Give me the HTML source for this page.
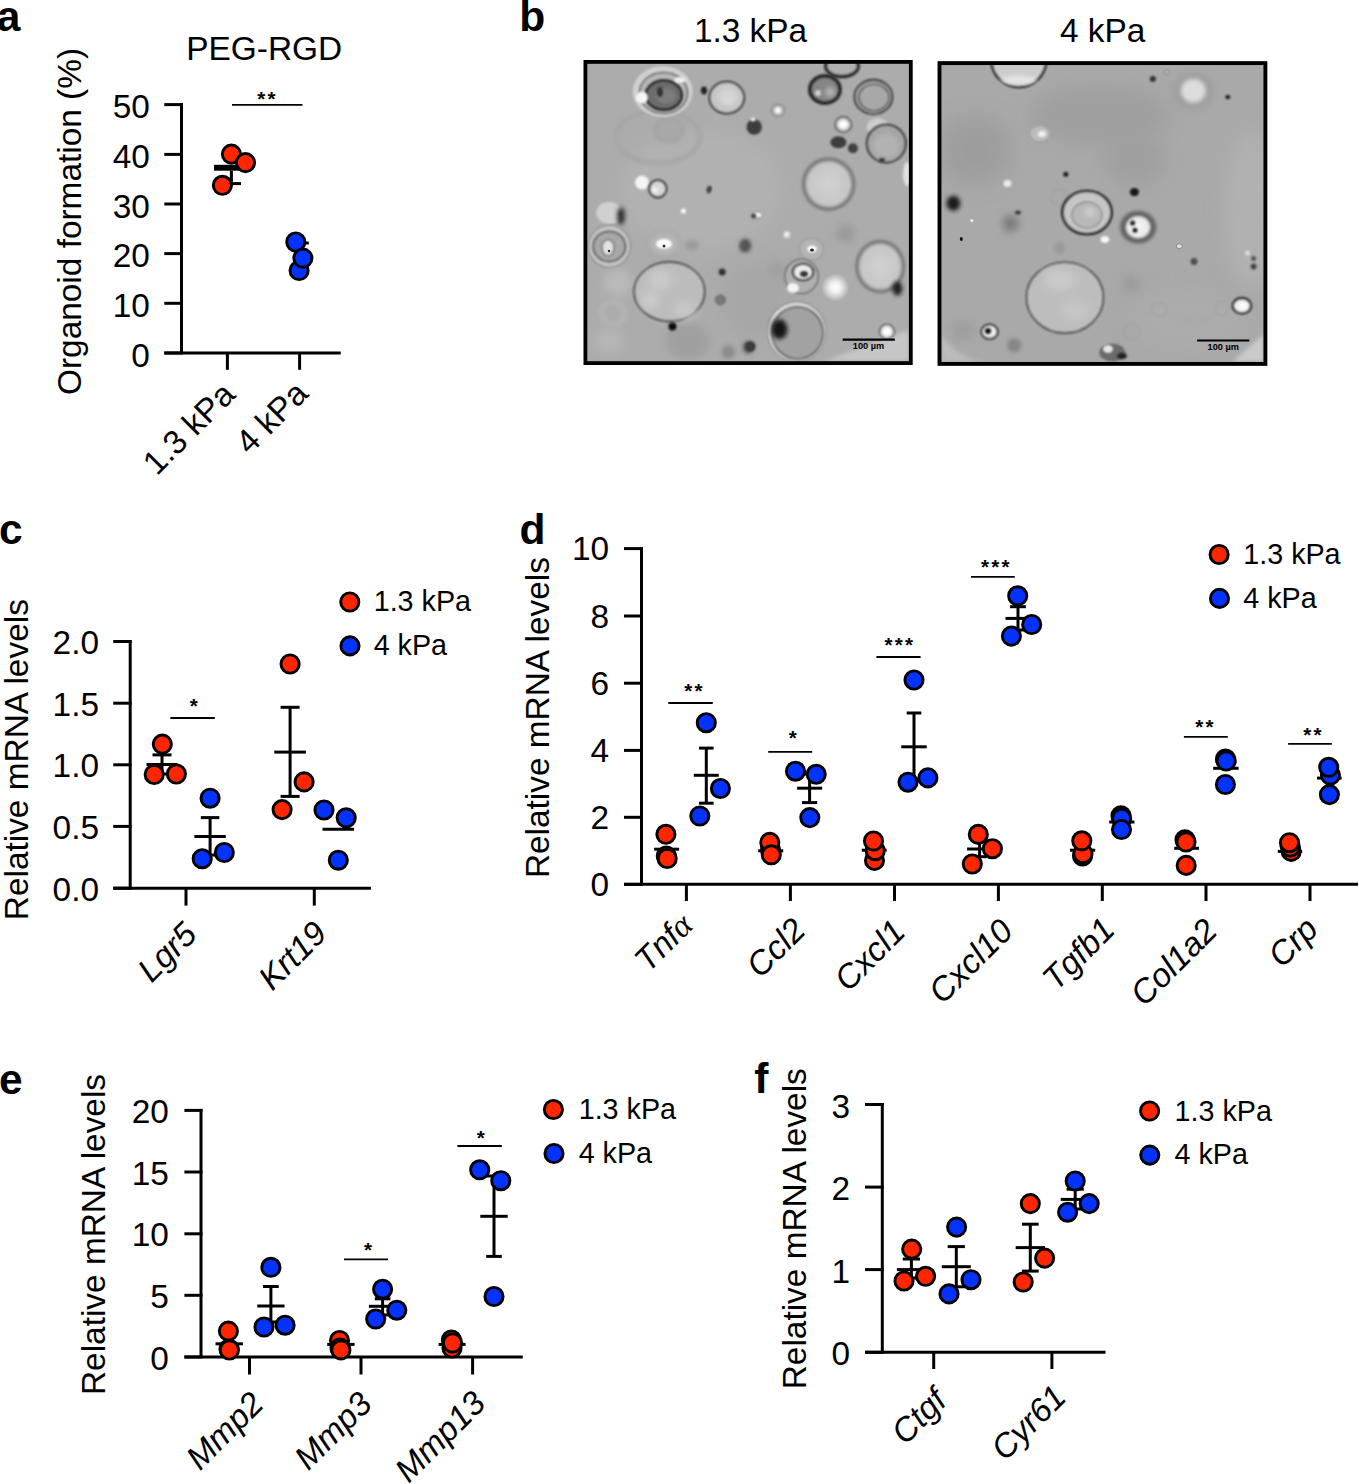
<!DOCTYPE html>
<html><head><meta charset="utf-8"><style>
html,body{margin:0;padding:0;background:#fff;overflow:hidden}
svg{display:block}
text{font-family:"Liberation Sans",sans-serif;fill:#000}
</style></head><body>
<svg width="1359" height="1484" viewBox="0 0 1359 1484">
<rect width="1359" height="1484" fill="#fff"/>
<text x="-3.20" y="30.80" font-size="42.5" font-weight="bold">a</text>
<text x="519.20" y="30.90" font-size="42.5" font-weight="bold">b</text>
<text x="-0.90" y="543.60" font-size="42.5" font-weight="bold">c</text>
<text x="519.50" y="543.70" font-size="42.5" font-weight="bold">d</text>
<text x="-0.90" y="1093.70" font-size="42.5" font-weight="bold">e</text>
<text x="754.20" y="1093.40" font-size="42.5" font-weight="bold">f</text>
<line x1="181.50" y1="103.10" x2="181.50" y2="353.00" stroke="#000" stroke-width="3"/>
<line x1="164.30" y1="104.60" x2="183.00" y2="104.60" stroke="#000" stroke-width="3"/>
<line x1="164.30" y1="154.40" x2="183.00" y2="154.40" stroke="#000" stroke-width="3"/>
<line x1="164.30" y1="204.00" x2="183.00" y2="204.00" stroke="#000" stroke-width="3"/>
<line x1="164.30" y1="253.60" x2="183.00" y2="253.60" stroke="#000" stroke-width="3"/>
<line x1="164.30" y1="303.30" x2="183.00" y2="303.30" stroke="#000" stroke-width="3"/>
<line x1="164.30" y1="353.00" x2="183.00" y2="353.00" stroke="#000" stroke-width="3"/>
<line x1="164.30" y1="353.00" x2="340.70" y2="353.00" stroke="#000" stroke-width="3"/>
<line x1="227.40" y1="353.00" x2="227.40" y2="369.80" stroke="#000" stroke-width="3"/>
<line x1="299.60" y1="353.00" x2="299.60" y2="369.80" stroke="#000" stroke-width="3"/>
<text x="149.90" y="118.10" font-size="33.4" text-anchor="end">50</text>
<text x="149.90" y="167.90" font-size="33.4" text-anchor="end">40</text>
<text x="149.90" y="217.50" font-size="33.4" text-anchor="end">30</text>
<text x="149.90" y="267.10" font-size="33.4" text-anchor="end">20</text>
<text x="149.90" y="316.80" font-size="33.4" text-anchor="end">10</text>
<text x="149.90" y="366.50" font-size="33.4" text-anchor="end">0</text>
<text x="186.30" y="60.00" font-size="33.4">PEG-RGD</text>
<text x="81.20" y="221.50" font-size="33.4" text-anchor="middle" transform="rotate(-90 81.20 221.50)">Organoid formation (%)</text>
<line x1="232.00" y1="104.80" x2="302.50" y2="104.80" stroke="#000" stroke-width="1.8"/>
<text x="261.38" y="105.60" font-size="20.6" text-anchor="middle" font-weight="bold">*</text>
<text x="271.62" y="105.60" font-size="20.6" text-anchor="middle" font-weight="bold">*</text>
<rect x="214.00" y="164.80" width="34.80" height="5.90" fill="#000"/>
<line x1="231.40" y1="170.70" x2="231.40" y2="184.00" stroke="#000" stroke-width="3"/>
<line x1="221.50" y1="183.60" x2="241.00" y2="183.60" stroke="#000" stroke-width="3"/>
<circle cx="231.40" cy="154.10" r="9.1" fill="#ff2600" stroke="#000" stroke-width="2.9"/>
<circle cx="245.50" cy="162.60" r="9.1" fill="#ff2600" stroke="#000" stroke-width="2.9"/>
<circle cx="222.40" cy="185.30" r="9.1" fill="#ff2600" stroke="#000" stroke-width="2.9"/>
<line x1="290.00" y1="243.00" x2="308.80" y2="243.00" stroke="#000" stroke-width="3"/>
<circle cx="295.80" cy="242.00" r="9.1" fill="#0433ff" stroke="#000" stroke-width="2.9"/>
<circle cx="299.10" cy="270.50" r="9.1" fill="#0433ff" stroke="#000" stroke-width="2.9"/>
<circle cx="302.90" cy="258.10" r="9.1" fill="#0433ff" stroke="#000" stroke-width="2.9"/>
<text x="236.80" y="396.40" font-size="33.4" text-anchor="end" transform="rotate(-45 236.80 396.40)">1.3 kPa</text>
<text x="309.90" y="395.40" font-size="33.4" text-anchor="end" transform="rotate(-45 309.90 395.40)">4 kPa</text>
<defs><clipPath id="c1"><rect x="586" y="63" width="324" height="299"/></clipPath><clipPath id="c2"><rect x="940.5" y="64" width="324" height="299"/></clipPath><filter id="bl1" x="-50%" y="-50%" width="200%" height="200%"><feGaussianBlur stdDeviation="0.8"/></filter><filter id="bl2" x="-50%" y="-50%" width="200%" height="200%"><feGaussianBlur stdDeviation="2"/></filter><filter id="bl4" x="-50%" y="-50%" width="200%" height="200%"><feGaussianBlur stdDeviation="4"/></filter><filter id="bl8" x="-50%" y="-50%" width="200%" height="200%"><feGaussianBlur stdDeviation="10"/></filter><radialGradient id="glow"><stop offset="0" stop-color="#fff" stop-opacity="1"/><stop offset="0.4" stop-color="#fff" stop-opacity="0.8"/><stop offset="1" stop-color="#fff" stop-opacity="0"/></radialGradient><radialGradient id="blob" cx="0.5" cy="0.5" r="0.5"><stop offset="0" stop-color="#d2d2d2"/><stop offset="0.72" stop-color="#c6c6c6"/><stop offset="0.87" stop-color="#727272"/><stop offset="1" stop-color="#a0a0a0" stop-opacity="0"/></radialGradient><radialGradient id="halo" cx="0.5" cy="0.5" r="0.5"><stop offset="0" stop-color="#f6f6f6"/><stop offset="0.5" stop-color="#eaeaea"/><stop offset="0.66" stop-color="#5a5a5a"/><stop offset="0.84" stop-color="#7a7a7a"/><stop offset="1" stop-color="#a5a5a5" stop-opacity="0"/></radialGradient><radialGradient id="dglow2"><stop offset="0" stop-color="#888"/><stop offset="1" stop-color="#888" stop-opacity="0"/></radialGradient></defs>
<g clip-path="url(#c1)">
<rect x="586" y="63" width="324" height="299" fill="#acacac"/>
<ellipse cx="700" cy="190" rx="80" ry="60" fill="#b2b2b2" filter="url(#bl8)" opacity="0.9"/>
<ellipse cx="760" cy="300" rx="40" ry="40" fill="#a6a6a6" filter="url(#bl8)" opacity="0.8"/>
<ellipse cx="688" cy="341" rx="22" ry="18" fill="#9c9c9c" filter="url(#bl4)" opacity="0.8"/>
<polygon points="825,361 909,361 909,330" fill="#c6c6c6" filter="url(#bl2)"/>
<ellipse cx="658" cy="137" rx="42" ry="26" fill="none" stroke="#a2a2a2" stroke-width="3" filter="url(#bl2)"/>
<ellipse cx="669" cy="130" rx="14.5" ry="12.3" fill="#a8a8a8" stroke="#9e9e9e" stroke-width="2" filter="url(#bl2)"/>
<ellipse cx="662.7" cy="91.5" rx="30" ry="25.5" fill="#d0d0d0" filter="url(#bl1)"/>
<ellipse cx="663.5" cy="93" rx="24" ry="20.5" fill="#b8b8b8" stroke="#5a5a5a" stroke-width="1.5" filter="url(#bl1)"/>
<ellipse cx="663.8" cy="95.2" rx="18" ry="14.6" fill="#6c6c6c" stroke="#1a1a1a" stroke-width="2.5" filter="url(#bl1)"/>
<ellipse cx="666" cy="96" rx="10" ry="8" fill="#7c7c7c" filter="url(#bl1)"/>
<ellipse cx="660" cy="92" rx="3" ry="5" fill="#333" filter="url(#bl1)"/>
<ellipse cx="642" cy="97.6" rx="6" ry="6" fill="#f6f6f6" filter="url(#bl1)"/>
<ellipse cx="680" cy="80" rx="6" ry="3" fill="#eee" filter="url(#bl1)"/>
<ellipse cx="726.8" cy="97.6" rx="17.3" ry="15.8" fill="#c6c6c6" stroke="#2a2a2a" stroke-width="2" filter="url(#bl1)"/>
<ellipse cx="728" cy="97" rx="9" ry="9" fill="#d6d6d6" filter="url(#bl2)"/>
<ellipse cx="704" cy="90.4" rx="3" ry="4" fill="#222" filter="url(#bl1)"/>
<ellipse cx="824.9" cy="89.5" rx="15" ry="13.5" fill="#858585" stroke="#2a2a2a" stroke-width="4" filter="url(#bl1)"/>
<ellipse cx="830" cy="92" rx="5" ry="5" fill="#b0b0b0" filter="url(#bl2)"/>
<ellipse cx="818" cy="93" rx="3" ry="3" fill="#d0d0d0" filter="url(#bl1)"/>
<ellipse cx="842" cy="66" rx="16.3" ry="10.5" fill="#b0b0b0" stroke="#2a2a2a" stroke-width="3.5" filter="url(#bl1)"/>
<ellipse cx="873.4" cy="96.9" rx="18.9" ry="16.9" fill="#a2a2a2" stroke="#222" stroke-width="1.8" filter="url(#bl1)"/>
<ellipse cx="874" cy="97.5" rx="15" ry="13" fill="#a8a8a8" stroke="#3a3a3a" stroke-width="1.2" filter="url(#bl1)"/>
<ellipse cx="754.2" cy="127" rx="7.7" ry="7.7" fill="#3c3c3c" filter="url(#bl1)"/>
<ellipse cx="753" cy="119.5" rx="2.5" ry="2" fill="#eee" filter="url(#bl1)"/>
<ellipse cx="778" cy="110.4" rx="6.5" ry="6" fill="#bbb" stroke="#777" stroke-width="1.2" filter="url(#bl1)"/>
<ellipse cx="778" cy="110.4" rx="3" ry="2.8" fill="#fafafa" filter="url(#bl1)"/>
<ellipse cx="843.3" cy="124.5" rx="8" ry="7.5" fill="#ccc" stroke="#3a3a3a" stroke-width="1.5" filter="url(#bl1)"/>
<ellipse cx="843.3" cy="124.5" rx="4.5" ry="4" fill="#fefefe" filter="url(#bl1)"/>
<ellipse cx="838.4" cy="142.3" rx="8" ry="6" fill="#3e3e3e" filter="url(#bl1)"/>
<ellipse cx="852.9" cy="148.2" rx="5" ry="5" fill="#404040" filter="url(#bl1)"/>
<ellipse cx="877.7" cy="127" rx="11" ry="9" fill="#cdcdcd" filter="url(#bl1)"/>
<ellipse cx="886.3" cy="143.6" rx="19.4" ry="18.8" fill="#a6a6a6" stroke="#2a2a2a" stroke-width="2" filter="url(#bl1)"/>
<ellipse cx="886" cy="146" rx="13" ry="12" fill="#b2b2b2" filter="url(#bl2)"/>
<ellipse cx="882" cy="160" rx="3" ry="2" fill="#333" filter="url(#bl1)"/>
<ellipse cx="907" cy="174" rx="4" ry="12" fill="#e0e0e0" filter="url(#bl1)"/>
<ellipse cx="828.6" cy="184.1" rx="29" ry="29" fill="url(#blob)" filter="url(#bl1)"/>
<ellipse cx="609.3" cy="213" rx="13" ry="11" fill="#d0d0d0" filter="url(#bl1)"/>
<ellipse cx="621" cy="216" rx="4" ry="9" fill="#333" filter="url(#bl2)"/>
<ellipse cx="609.3" cy="246.4" rx="21" ry="21" fill="#c4c4c4" stroke="#888" stroke-width="1.2" filter="url(#bl1)"/>
<ellipse cx="609.3" cy="246.4" rx="16" ry="15" fill="#a8a8a8" stroke="#444" stroke-width="1.5" filter="url(#bl1)"/>
<ellipse cx="608" cy="247.6" rx="6" ry="8" fill="#e2e2e2" stroke="#555" stroke-width="1.2" filter="url(#bl1)"/>
<ellipse cx="609" cy="251" rx="1.2" ry="1.2" fill="#222"/>
<ellipse cx="642" cy="182.6" rx="7" ry="7" fill="#f4f4f4" filter="url(#bl1)"/>
<ellipse cx="657.8" cy="188.7" rx="8.5" ry="8.5" fill="#d8d8d8" stroke="#1e1e1e" stroke-width="2" filter="url(#bl1)"/>
<ellipse cx="655" cy="190" rx="3" ry="3" fill="#f0f0f0" filter="url(#bl1)"/>
<ellipse cx="710" cy="188.7" rx="1.5" ry="3" fill="#333" filter="url(#bl1)"/>
<ellipse cx="683.4" cy="211" rx="2.5" ry="2.5" fill="#fafafa" filter="url(#bl1)"/>
<ellipse cx="664" cy="244" rx="16" ry="13" fill="#b6b6b6" stroke="#9c9c9c" stroke-width="1.5" filter="url(#bl2)"/>
<ellipse cx="664" cy="244" rx="8" ry="5" fill="#fcfcfc" filter="url(#bl1)"/>
<ellipse cx="664" cy="246" rx="1.5" ry="1.5" fill="#333"/>
<ellipse cx="691.8" cy="245.2" rx="7" ry="5" fill="#9a9a9a" filter="url(#bl2)"/>
<ellipse cx="617.8" cy="282.9" rx="14" ry="13" fill="#bababa" filter="url(#bl4)"/>
<ellipse cx="613" cy="313" rx="12" ry="11" fill="none" stroke="#b8b8b8" stroke-width="3" filter="url(#bl2)"/>
<ellipse cx="609.3" cy="341" rx="14" ry="12" fill="#b6b6b6" filter="url(#bl4)"/>
<ellipse cx="669.4" cy="291.6" rx="35.2" ry="29.5" fill="#bcbcbc" stroke="#262626" stroke-width="1.6" filter="url(#bl1)"/>
<ellipse cx="660" cy="280" rx="12" ry="10" fill="#cacaca" filter="url(#bl4)"/>
<ellipse cx="685" cy="310" rx="11" ry="9" fill="#c8c8c8" filter="url(#bl4)"/>
<ellipse cx="650" cy="300" rx="9" ry="8" fill="#cccccc" filter="url(#bl4)"/>
<ellipse cx="672.4" cy="326.6" rx="4" ry="4" fill="#111" filter="url(#bl1)"/>
<ellipse cx="722.2" cy="272" rx="3.5" ry="3.5" fill="#333" filter="url(#bl1)"/>
<ellipse cx="720.4" cy="299.8" rx="4.8" ry="4.8" fill="#7a7a7a" stroke="#555" stroke-width="1" filter="url(#bl1)"/>
<ellipse cx="745.3" cy="245.2" rx="5" ry="6" fill="#555" filter="url(#bl2)"/>
<ellipse cx="748.3" cy="347.2" rx="5" ry="6" fill="#444" filter="url(#bl2)"/>
<ellipse cx="728.3" cy="352" rx="7" ry="7" fill="#8c8c8c" filter="url(#bl2)"/>
<ellipse cx="708.4" cy="190" rx="1.8" ry="3.5" fill="#444" filter="url(#bl1)"/>
<ellipse cx="757.7" cy="214.9" rx="4.5" ry="3" fill="#f2f2f2" stroke="#777" stroke-width="1" filter="url(#bl1)"/>
<ellipse cx="753.6" cy="216" rx="2.5" ry="2.5" fill="#444" filter="url(#bl1)"/>
<ellipse cx="786.8" cy="234.6" rx="5" ry="5" fill="#c8c8c8" stroke="#999" stroke-width="1" filter="url(#bl1)"/>
<ellipse cx="786.8" cy="234.6" rx="2" ry="2" fill="#fff" filter="url(#bl1)"/>
<ellipse cx="745" cy="246" rx="5" ry="6" fill="#555" filter="url(#bl2)"/>
<ellipse cx="811.4" cy="249.3" rx="12" ry="11" fill="#b4b4b4" stroke="#999" stroke-width="1.2" filter="url(#bl1)"/>
<ellipse cx="812" cy="249" rx="5" ry="3.5" fill="#fafafa" filter="url(#bl1)"/>
<ellipse cx="812" cy="250" rx="2" ry="1.5" fill="#222"/>
<ellipse cx="845.8" cy="233.3" rx="10" ry="9" fill="#999" filter="url(#bl4)"/>
<ellipse cx="778.2" cy="269" rx="8" ry="8" fill="#9e9e9e" filter="url(#bl4)"/>
<ellipse cx="801.5" cy="276.4" rx="16.6" ry="17.2" fill="#b0b0b0" stroke="#6a6a6a" stroke-width="1.5" filter="url(#bl1)"/>
<ellipse cx="803" cy="272" rx="10" ry="8" fill="#ececec" stroke="#222" stroke-width="2" filter="url(#bl1)"/>
<ellipse cx="804" cy="274" rx="4" ry="3" fill="#333" filter="url(#bl1)"/>
<ellipse cx="793" cy="288" rx="6" ry="5" fill="#f4f4f4" filter="url(#bl1)"/>
<ellipse cx="835.3" cy="287.4" rx="14" ry="14" fill="url(#glow)"/>
<ellipse cx="880.2" cy="266.5" rx="27" ry="29" fill="url(#blob)" filter="url(#bl1)"/>
<ellipse cx="897.4" cy="288.6" rx="5" ry="7" fill="#1a1a1a" filter="url(#bl2)"/>
<ellipse cx="796.6" cy="331.6" rx="29" ry="29.8" fill="#d8d8d8" stroke="#888" stroke-width="1.2" filter="url(#bl1)"/>
<ellipse cx="797.5" cy="333" rx="25.5" ry="26" fill="#a2a2a2" stroke="#505050" stroke-width="1.5" filter="url(#bl1)"/>
<ellipse cx="779.4" cy="329.2" rx="8" ry="10" fill="#161616" filter="url(#bl2)"/>
<ellipse cx="750.5" cy="346.4" rx="5" ry="5" fill="#3a3a3a" filter="url(#bl1)"/>
<ellipse cx="886.9" cy="331.6" rx="7" ry="7" fill="#ececec" stroke="#444" stroke-width="1.5" filter="url(#bl1)"/>
<ellipse cx="886.9" cy="331.6" rx="3" ry="3" fill="#fff"/>
</g>
<line x1="842.7" y1="339.6" x2="894.9" y2="339.6" stroke="#000" stroke-width="2.1"/>
<text x="868.5" y="349.2" font-size="9.2" font-weight="bold" text-anchor="middle">100 µm</text>
<g clip-path="url(#c2)">
<rect x="940.5" y="64" width="324" height="299" fill="#a9a9a9"/>
<ellipse cx="1100" cy="115" rx="70" ry="30" fill="#9e9e9e" filter="url(#bl8)" opacity="0.9"/>
<ellipse cx="975" cy="150" rx="35" ry="35" fill="#9c9c9c" filter="url(#bl8)" opacity="0.9"/>
<ellipse cx="1135" cy="160" rx="30" ry="25" fill="#9c9c9c" filter="url(#bl8)" opacity="0.8"/>
<ellipse cx="1250" cy="210" rx="25" ry="80" fill="#b4b4b4" filter="url(#bl8)" opacity="0.8"/>
<ellipse cx="1190" cy="320" rx="60" ry="30" fill="#adadad" filter="url(#bl8)" opacity="0.7"/>
<polygon points="1232,362 1264,362 1264,334" fill="#cacaca" filter="url(#bl2)"/>
<path d="M941.5,335 Q960,362 990,362 L941.5,362 Z" fill="#bcbcbc" filter="url(#bl2)"/>
<ellipse cx="1018.8" cy="60" rx="27.3" ry="27" fill="#cdcdcd" stroke="#1a1a1a" stroke-width="2.5" filter="url(#bl1)"/>
<ellipse cx="1018.8" cy="80" rx="18" ry="4" fill="#e6e6e6" filter="url(#bl2)"/>
<ellipse cx="1193.4" cy="90.7" rx="20" ry="18" fill="#999" filter="url(#bl4)" opacity="0.8"/>
<ellipse cx="1193.4" cy="90.7" rx="12.5" ry="12" fill="#dcdcdc" filter="url(#bl2)"/>
<ellipse cx="1152.8" cy="79" rx="3" ry="3" fill="#333" filter="url(#bl1)"/>
<ellipse cx="1227.8" cy="96.9" rx="2.5" ry="2" fill="#111" filter="url(#bl1)"/>
<ellipse cx="1167" cy="72.3" rx="3" ry="3" fill="none" stroke="#999" stroke-width="1"/>
<ellipse cx="1040" cy="133.7" rx="10" ry="8" fill="#bdbdbd" stroke="#999" stroke-width="1" filter="url(#bl1)"/>
<ellipse cx="1042" cy="134" rx="4" ry="3" fill="#f2f2f2" filter="url(#bl1)"/>
<ellipse cx="1007.4" cy="183.5" rx="4" ry="3.5" fill="#eaeaea" filter="url(#bl1)"/>
<ellipse cx="1065.8" cy="174.3" rx="2.5" ry="2.5" fill="#1a1a1a" filter="url(#bl1)"/>
<ellipse cx="953.4" cy="203.2" rx="7" ry="7.5" fill="#1c1c1c" filter="url(#bl2)"/>
<ellipse cx="1017.9" cy="212.4" rx="3" ry="2" fill="#333" filter="url(#bl1)"/>
<ellipse cx="1059.6" cy="197.6" rx="8" ry="8" fill="none" stroke="#a0a0a0" stroke-width="1.5" filter="url(#bl1)"/>
<ellipse cx="1138.1" cy="227.2" rx="21" ry="19" fill="url(#halo)" filter="url(#bl1)"/>
<ellipse cx="1132.6" cy="222.9" rx="2.5" ry="2.5" fill="#222" filter="url(#bl1)"/>
<ellipse cx="1135" cy="230.3" rx="2.5" ry="2.5" fill="#222" filter="url(#bl1)"/>
<ellipse cx="1134.4" cy="192.1" rx="4.5" ry="4" fill="#151515" filter="url(#bl1)"/>
<ellipse cx="1087" cy="212.5" rx="24.5" ry="21.5" fill="#c6c6c6" stroke="#151515" stroke-width="2.6" filter="url(#bl1)"/>
<ellipse cx="1087" cy="215" rx="15" ry="13" fill="#b8b8b8" stroke="#909090" stroke-width="1.5" filter="url(#bl1)"/>
<ellipse cx="1090" cy="212" rx="6" ry="5" fill="#cacaca" filter="url(#bl2)"/>
<ellipse cx="1104.9" cy="239.5" rx="5" ry="4" fill="#f6f6f6" stroke="#999" stroke-width="1" filter="url(#bl1)"/>
<ellipse cx="1010.5" cy="223.5" rx="8" ry="8" fill="#777" filter="url(#bl4)"/>
<ellipse cx="961.3" cy="238.9" rx="1.5" ry="2" fill="#111"/>
<ellipse cx="971.8" cy="220.4" rx="1.5" ry="1.5" fill="#eee"/>
<ellipse cx="1059.7" cy="248.1" rx="6" ry="6" fill="#999" filter="url(#bl2)"/>
<ellipse cx="1064.9" cy="297.6" rx="38.4" ry="35.3" fill="#bdbdbd" stroke="#2e2e2e" stroke-width="1.6" filter="url(#bl1)"/>
<ellipse cx="1060" cy="280" rx="16" ry="10" fill="#cacaca" filter="url(#bl4)"/>
<ellipse cx="1075" cy="310" rx="14" ry="10" fill="#c6c6c6" filter="url(#bl4)"/>
<ellipse cx="989.6" cy="331.7" rx="8" ry="7" fill="#ececec" stroke="#1e1e1e" stroke-width="2" filter="url(#bl1)"/>
<ellipse cx="988" cy="331" rx="3" ry="3" fill="#111" filter="url(#bl1)"/>
<ellipse cx="1014.2" cy="345.2" rx="7" ry="7" fill="#858585" filter="url(#bl2)"/>
<ellipse cx="962.6" cy="330.4" rx="12" ry="10" fill="#9e9e9e" filter="url(#bl4)"/>
<ellipse cx="1241.9" cy="305.8" rx="9" ry="7.5" fill="#eeeeee" stroke="#161616" stroke-width="2.4" filter="url(#bl1)"/>
<ellipse cx="1243" cy="306" rx="4" ry="3.5" fill="#fbfbfb" filter="url(#bl1)"/>
<ellipse cx="1112.3" cy="352.5" rx="13" ry="9" fill="#6a6a6a" filter="url(#bl1)"/>
<ellipse cx="1108" cy="349" rx="5" ry="4" fill="#e6e6e6" filter="url(#bl1)"/>
<ellipse cx="1122" cy="356" rx="5" ry="3" fill="#222" filter="url(#bl1)"/>
<ellipse cx="1194" cy="261.6" rx="3.5" ry="3.5" fill="#505050" filter="url(#bl1)"/>
<ellipse cx="1179.3" cy="246.2" rx="3" ry="2.5" fill="#ddd" stroke="#888" stroke-width="1"/>
<ellipse cx="1247.5" cy="253" rx="2.5" ry="2.5" fill="#ddd" filter="url(#bl1)"/>
<ellipse cx="1253.6" cy="258.5" rx="2.5" ry="2.5" fill="#555" filter="url(#bl1)"/>
<ellipse cx="1253.6" cy="266.5" rx="3" ry="3" fill="#444" filter="url(#bl1)"/>
<ellipse cx="1130.7" cy="283.7" rx="10" ry="9" fill="#9c9c9c" filter="url(#bl4)"/>
<ellipse cx="1159" cy="309.5" rx="8" ry="7" fill="none" stroke="#a0a0a0" stroke-width="1.2" filter="url(#bl1)"/>
<ellipse cx="1132" cy="331.7" rx="8" ry="8" fill="none" stroke="#a0a0a0" stroke-width="1.2" filter="url(#bl1)"/>
<ellipse cx="1221.6" cy="308.3" rx="7" ry="7" fill="none" stroke="#a0a0a0" stroke-width="1.2" filter="url(#bl1)"/>
</g>
<line x1="1197.1" y1="340.5" x2="1249.3" y2="340.5" stroke="#000" stroke-width="2.1"/>
<text x="1223.2" y="350.2" font-size="9.2" font-weight="bold" text-anchor="middle">100 µm</text>
<rect x="585.4" y="61.9" width="325.4" height="301.2" fill="none" stroke="#000" stroke-width="3.8"/>
<rect x="939.5" y="63.1" width="325.9" height="300.8" fill="none" stroke="#000" stroke-width="3.9"/>
<text x="750.50" y="42.00" font-size="33.4" text-anchor="middle">1.3 kPa</text>
<text x="1102.70" y="42.40" font-size="33.4" text-anchor="middle">4 kPa</text>
<line x1="130.20" y1="640.00" x2="130.20" y2="888.30" stroke="#000" stroke-width="3"/>
<line x1="113.20" y1="641.50" x2="131.70" y2="641.50" stroke="#000" stroke-width="3"/>
<line x1="113.20" y1="703.20" x2="131.70" y2="703.20" stroke="#000" stroke-width="3"/>
<line x1="113.20" y1="764.80" x2="131.70" y2="764.80" stroke="#000" stroke-width="3"/>
<line x1="113.20" y1="826.40" x2="131.70" y2="826.40" stroke="#000" stroke-width="3"/>
<line x1="113.20" y1="888.20" x2="131.70" y2="888.20" stroke="#000" stroke-width="3"/>
<line x1="113.20" y1="888.30" x2="370.90" y2="888.30" stroke="#000" stroke-width="3"/>
<line x1="186.00" y1="888.30" x2="186.00" y2="905.60" stroke="#000" stroke-width="3"/>
<line x1="314.30" y1="888.30" x2="314.30" y2="905.60" stroke="#000" stroke-width="3"/>
<text x="99.00" y="654.10" font-size="33.4" text-anchor="end">2.0</text>
<text x="99.00" y="715.80" font-size="33.4" text-anchor="end">1.5</text>
<text x="99.00" y="777.40" font-size="33.4" text-anchor="end">1.0</text>
<text x="99.00" y="839.00" font-size="33.4" text-anchor="end">0.5</text>
<text x="99.00" y="900.80" font-size="33.4" text-anchor="end">0.0</text>
<text x="27.80" y="759.70" font-size="33.4" text-anchor="middle" transform="rotate(-90 27.80 759.70)">Relative mRNA levels</text>
<line x1="170.30" y1="718.00" x2="214.80" y2="718.00" stroke="#000" stroke-width="1.8"/>
<text x="193.80" y="712.80" font-size="20.6" text-anchor="middle" font-weight="bold">*</text>
<line x1="162.00" y1="754.90" x2="162.00" y2="764.50" stroke="#000" stroke-width="3"/>
<line x1="152.50" y1="754.90" x2="171.50" y2="754.90" stroke="#000" stroke-width="3"/>
<line x1="162.00" y1="764.50" x2="162.00" y2="774.00" stroke="#000" stroke-width="3"/>
<line x1="152.50" y1="774.00" x2="171.50" y2="774.00" stroke="#000" stroke-width="3"/>
<line x1="146.50" y1="764.50" x2="177.50" y2="764.50" stroke="#000" stroke-width="3"/>
<circle cx="162.30" cy="744.10" r="9.1" fill="#ff2600" stroke="#000" stroke-width="2.9"/>
<circle cx="154.20" cy="774.50" r="9.1" fill="#ff2600" stroke="#000" stroke-width="2.9"/>
<circle cx="176.40" cy="774.00" r="9.1" fill="#ff2600" stroke="#000" stroke-width="2.9"/>
<line x1="210.10" y1="817.60" x2="210.10" y2="836.50" stroke="#000" stroke-width="3"/>
<line x1="200.85" y1="817.60" x2="219.35" y2="817.60" stroke="#000" stroke-width="3"/>
<line x1="210.10" y1="836.50" x2="210.10" y2="855.00" stroke="#000" stroke-width="3"/>
<line x1="200.85" y1="855.00" x2="219.35" y2="855.00" stroke="#000" stroke-width="3"/>
<line x1="194.35" y1="836.50" x2="225.85" y2="836.50" stroke="#000" stroke-width="3"/>
<circle cx="210.10" cy="798.20" r="9.1" fill="#0433ff" stroke="#000" stroke-width="2.9"/>
<circle cx="202.20" cy="858.70" r="9.1" fill="#0433ff" stroke="#000" stroke-width="2.9"/>
<circle cx="224.30" cy="852.50" r="9.1" fill="#0433ff" stroke="#000" stroke-width="2.9"/>
<line x1="290.10" y1="707.30" x2="290.10" y2="752.10" stroke="#000" stroke-width="3"/>
<line x1="280.60" y1="707.30" x2="299.60" y2="707.30" stroke="#000" stroke-width="3"/>
<line x1="290.10" y1="752.10" x2="290.10" y2="796.40" stroke="#000" stroke-width="3"/>
<line x1="280.60" y1="796.40" x2="299.60" y2="796.40" stroke="#000" stroke-width="3"/>
<line x1="274.30" y1="752.10" x2="305.90" y2="752.10" stroke="#000" stroke-width="3"/>
<circle cx="290.10" cy="664.00" r="9.1" fill="#ff2600" stroke="#000" stroke-width="2.9"/>
<circle cx="304.10" cy="781.90" r="9.1" fill="#ff2600" stroke="#000" stroke-width="2.9"/>
<circle cx="282.10" cy="809.60" r="9.1" fill="#ff2600" stroke="#000" stroke-width="2.9"/>
<line x1="322.50" y1="829.20" x2="354.10" y2="829.20" stroke="#000" stroke-width="3"/>
<circle cx="324.00" cy="810.00" r="9.1" fill="#0433ff" stroke="#000" stroke-width="2.9"/>
<circle cx="346.20" cy="817.80" r="9.1" fill="#0433ff" stroke="#000" stroke-width="2.9"/>
<circle cx="338.30" cy="860.20" r="9.1" fill="#0433ff" stroke="#000" stroke-width="2.9"/>
<circle cx="349.80" cy="602.00" r="9.1" fill="#ff2600" stroke="#000" stroke-width="2.9"/>
<circle cx="350.00" cy="645.90" r="9.1" fill="#0433ff" stroke="#000" stroke-width="2.9"/>
<text x="373.70" y="611.40" font-size="28.7">1.3 kPa</text>
<text x="373.70" y="654.80" font-size="28.7">4 kPa</text>
<text x="198.70" y="936.40" font-size="33.4" text-anchor="end" transform="rotate(-45 198.70 936.40)" font-style="italic">Lgr5</text>
<text x="328.75" y="935.40" font-size="33.4" text-anchor="end" transform="rotate(-45 328.75 935.40)" font-style="italic">Krt19</text>
<line x1="641.50" y1="547.10" x2="641.50" y2="884.30" stroke="#000" stroke-width="3"/>
<line x1="624.00" y1="548.60" x2="643.00" y2="548.60" stroke="#000" stroke-width="3"/>
<line x1="624.00" y1="616.00" x2="643.00" y2="616.00" stroke="#000" stroke-width="3"/>
<line x1="624.00" y1="683.20" x2="643.00" y2="683.20" stroke="#000" stroke-width="3"/>
<line x1="624.00" y1="750.40" x2="643.00" y2="750.40" stroke="#000" stroke-width="3"/>
<line x1="624.00" y1="817.30" x2="643.00" y2="817.30" stroke="#000" stroke-width="3"/>
<line x1="624.00" y1="884.40" x2="643.00" y2="884.40" stroke="#000" stroke-width="3"/>
<line x1="624.00" y1="884.30" x2="1358.00" y2="884.30" stroke="#000" stroke-width="3"/>
<line x1="686.40" y1="884.30" x2="686.40" y2="901.00" stroke="#000" stroke-width="3"/>
<line x1="790.40" y1="884.30" x2="790.40" y2="901.00" stroke="#000" stroke-width="3"/>
<line x1="894.50" y1="884.30" x2="894.50" y2="901.00" stroke="#000" stroke-width="3"/>
<line x1="998.40" y1="884.30" x2="998.40" y2="901.00" stroke="#000" stroke-width="3"/>
<line x1="1102.30" y1="884.30" x2="1102.30" y2="901.00" stroke="#000" stroke-width="3"/>
<line x1="1206.00" y1="884.30" x2="1206.00" y2="901.00" stroke="#000" stroke-width="3"/>
<line x1="1310.00" y1="884.30" x2="1310.00" y2="901.00" stroke="#000" stroke-width="3"/>
<text x="609.20" y="560.10" font-size="33.4" text-anchor="end">10</text>
<text x="609.20" y="627.50" font-size="33.4" text-anchor="end">8</text>
<text x="609.20" y="694.70" font-size="33.4" text-anchor="end">6</text>
<text x="609.20" y="761.90" font-size="33.4" text-anchor="end">4</text>
<text x="609.20" y="828.80" font-size="33.4" text-anchor="end">2</text>
<text x="609.20" y="895.90" font-size="33.4" text-anchor="end">0</text>
<text x="548.60" y="717.60" font-size="33.4" text-anchor="middle" transform="rotate(-90 548.60 717.60)">Relative mRNA levels</text>
<line x1="668.30" y1="703.00" x2="712.80" y2="703.00" stroke="#000" stroke-width="1.8"/>
<text x="688.27" y="697.70" font-size="20.6" text-anchor="middle" font-weight="bold">*</text>
<text x="698.52" y="697.70" font-size="20.6" text-anchor="middle" font-weight="bold">*</text>
<line x1="768.20" y1="751.80" x2="812.20" y2="751.80" stroke="#000" stroke-width="1.8"/>
<text x="792.80" y="745.40" font-size="20.6" text-anchor="middle" font-weight="bold">*</text>
<line x1="876.40" y1="657.00" x2="920.60" y2="657.00" stroke="#000" stroke-width="1.8"/>
<text x="888.45" y="652.20" font-size="20.6" text-anchor="middle" font-weight="bold">*</text>
<text x="898.70" y="652.20" font-size="20.6" text-anchor="middle" font-weight="bold">*</text>
<text x="908.95" y="652.20" font-size="20.6" text-anchor="middle" font-weight="bold">*</text>
<line x1="971.00" y1="576.90" x2="1014.80" y2="576.90" stroke="#000" stroke-width="1.8"/>
<text x="985.05" y="574.00" font-size="20.6" text-anchor="middle" font-weight="bold">*</text>
<text x="995.30" y="574.00" font-size="20.6" text-anchor="middle" font-weight="bold">*</text>
<text x="1005.55" y="574.00" font-size="20.6" text-anchor="middle" font-weight="bold">*</text>
<line x1="1183.90" y1="736.80" x2="1227.80" y2="736.80" stroke="#000" stroke-width="1.8"/>
<text x="1199.17" y="733.50" font-size="20.6" text-anchor="middle" font-weight="bold">*</text>
<text x="1209.42" y="733.50" font-size="20.6" text-anchor="middle" font-weight="bold">*</text>
<line x1="1288.10" y1="743.80" x2="1331.80" y2="743.80" stroke="#000" stroke-width="1.8"/>
<text x="1307.17" y="741.70" font-size="20.6" text-anchor="middle" font-weight="bold">*</text>
<text x="1317.42" y="741.70" font-size="20.6" text-anchor="middle" font-weight="bold">*</text>
<line x1="654.10" y1="849.20" x2="679.10" y2="849.20" stroke="#000" stroke-width="3"/>
<circle cx="666.30" cy="856.00" r="9.1" fill="#ff2600" stroke="#000" stroke-width="2.9"/>
<circle cx="667.20" cy="858.50" r="9.1" fill="#ff2600" stroke="#000" stroke-width="2.9"/>
<circle cx="665.90" cy="834.30" r="9.1" fill="#ff2600" stroke="#000" stroke-width="2.9"/>
<line x1="706.30" y1="748.10" x2="706.30" y2="775.30" stroke="#000" stroke-width="3"/>
<line x1="699.00" y1="748.10" x2="713.60" y2="748.10" stroke="#000" stroke-width="3"/>
<line x1="706.30" y1="775.30" x2="706.30" y2="803.20" stroke="#000" stroke-width="3"/>
<line x1="699.00" y1="803.20" x2="713.60" y2="803.20" stroke="#000" stroke-width="3"/>
<line x1="693.80" y1="775.30" x2="718.80" y2="775.30" stroke="#000" stroke-width="3"/>
<circle cx="706.30" cy="722.70" r="9.1" fill="#0433ff" stroke="#000" stroke-width="2.9"/>
<circle cx="720.40" cy="788.50" r="9.1" fill="#0433ff" stroke="#000" stroke-width="2.9"/>
<circle cx="699.80" cy="816.00" r="9.1" fill="#0433ff" stroke="#000" stroke-width="2.9"/>
<line x1="758.20" y1="850.80" x2="783.20" y2="850.80" stroke="#000" stroke-width="3"/>
<circle cx="770.50" cy="850.00" r="9.1" fill="#ff2600" stroke="#000" stroke-width="2.9"/>
<circle cx="769.80" cy="842.40" r="9.1" fill="#ff2600" stroke="#000" stroke-width="2.9"/>
<circle cx="771.30" cy="854.80" r="9.1" fill="#ff2600" stroke="#000" stroke-width="2.9"/>
<line x1="809.60" y1="774.00" x2="809.60" y2="788.20" stroke="#000" stroke-width="3"/>
<line x1="802.00" y1="774.00" x2="817.20" y2="774.00" stroke="#000" stroke-width="3"/>
<line x1="809.60" y1="788.20" x2="809.60" y2="802.60" stroke="#000" stroke-width="3"/>
<line x1="802.00" y1="802.60" x2="817.20" y2="802.60" stroke="#000" stroke-width="3"/>
<line x1="797.10" y1="788.20" x2="822.10" y2="788.20" stroke="#000" stroke-width="3"/>
<circle cx="795.50" cy="771.20" r="9.1" fill="#0433ff" stroke="#000" stroke-width="2.9"/>
<circle cx="816.20" cy="774.30" r="9.1" fill="#0433ff" stroke="#000" stroke-width="2.9"/>
<circle cx="809.80" cy="817.60" r="9.1" fill="#0433ff" stroke="#000" stroke-width="2.9"/>
<line x1="861.80" y1="850.20" x2="886.60" y2="850.20" stroke="#000" stroke-width="3"/>
<circle cx="874.50" cy="860.40" r="9.1" fill="#ff2600" stroke="#000" stroke-width="2.9"/>
<circle cx="875.20" cy="850.70" r="9.1" fill="#ff2600" stroke="#000" stroke-width="2.9"/>
<circle cx="873.50" cy="841.00" r="9.1" fill="#ff2600" stroke="#000" stroke-width="2.9"/>
<line x1="914.00" y1="713.00" x2="914.00" y2="746.80" stroke="#000" stroke-width="3"/>
<line x1="906.70" y1="713.00" x2="921.30" y2="713.00" stroke="#000" stroke-width="3"/>
<line x1="914.00" y1="746.80" x2="914.00" y2="780.00" stroke="#000" stroke-width="3"/>
<line x1="906.70" y1="780.00" x2="921.30" y2="780.00" stroke="#000" stroke-width="3"/>
<line x1="901.25" y1="746.80" x2="926.75" y2="746.80" stroke="#000" stroke-width="3"/>
<circle cx="914.00" cy="680.00" r="9.1" fill="#0433ff" stroke="#000" stroke-width="2.9"/>
<circle cx="908.00" cy="782.20" r="9.1" fill="#0433ff" stroke="#000" stroke-width="2.9"/>
<circle cx="927.90" cy="777.90" r="9.1" fill="#0433ff" stroke="#000" stroke-width="2.9"/>
<line x1="979.60" y1="841.00" x2="979.60" y2="849.00" stroke="#000" stroke-width="3"/>
<line x1="972.30" y1="841.00" x2="986.90" y2="841.00" stroke="#000" stroke-width="3"/>
<line x1="979.60" y1="849.00" x2="979.60" y2="856.70" stroke="#000" stroke-width="3"/>
<line x1="972.30" y1="856.70" x2="986.90" y2="856.70" stroke="#000" stroke-width="3"/>
<line x1="967.10" y1="849.00" x2="992.10" y2="849.00" stroke="#000" stroke-width="3"/>
<circle cx="978.30" cy="834.40" r="9.1" fill="#ff2600" stroke="#000" stroke-width="2.9"/>
<circle cx="992.40" cy="848.70" r="9.1" fill="#ff2600" stroke="#000" stroke-width="2.9"/>
<circle cx="972.30" cy="864.00" r="9.1" fill="#ff2600" stroke="#000" stroke-width="2.9"/>
<line x1="1018.00" y1="606.70" x2="1018.00" y2="618.40" stroke="#000" stroke-width="3"/>
<line x1="1010.10" y1="606.70" x2="1025.90" y2="606.70" stroke="#000" stroke-width="3"/>
<line x1="1018.00" y1="618.40" x2="1018.00" y2="630.00" stroke="#000" stroke-width="3"/>
<line x1="1010.10" y1="630.00" x2="1025.90" y2="630.00" stroke="#000" stroke-width="3"/>
<line x1="1005.50" y1="618.40" x2="1030.50" y2="618.40" stroke="#000" stroke-width="3"/>
<circle cx="1017.70" cy="595.80" r="9.1" fill="#0433ff" stroke="#000" stroke-width="2.9"/>
<circle cx="1031.70" cy="624.50" r="9.1" fill="#0433ff" stroke="#000" stroke-width="2.9"/>
<circle cx="1011.40" cy="636.10" r="9.1" fill="#0433ff" stroke="#000" stroke-width="2.9"/>
<line x1="1070.00" y1="850.20" x2="1095.20" y2="850.20" stroke="#000" stroke-width="3"/>
<circle cx="1082.50" cy="856.00" r="9.1" fill="#ff2600" stroke="#000" stroke-width="2.9"/>
<circle cx="1083.00" cy="853.70" r="9.1" fill="#ff2600" stroke="#000" stroke-width="2.9"/>
<circle cx="1081.80" cy="840.80" r="9.1" fill="#ff2600" stroke="#000" stroke-width="2.9"/>
<line x1="1109.20" y1="822.00" x2="1134.40" y2="822.00" stroke="#000" stroke-width="3"/>
<circle cx="1121.00" cy="815.80" r="9.1" fill="#0433ff" stroke="#000" stroke-width="2.9"/>
<circle cx="1121.70" cy="818.50" r="9.1" fill="#0433ff" stroke="#000" stroke-width="2.9"/>
<circle cx="1121.50" cy="829.50" r="9.1" fill="#0433ff" stroke="#000" stroke-width="2.9"/>
<line x1="1174.25" y1="848.30" x2="1198.95" y2="848.30" stroke="#000" stroke-width="3"/>
<circle cx="1185.00" cy="839.80" r="9.1" fill="#ff2600" stroke="#000" stroke-width="2.9"/>
<circle cx="1186.00" cy="842.00" r="9.1" fill="#ff2600" stroke="#000" stroke-width="2.9"/>
<circle cx="1186.20" cy="865.40" r="9.1" fill="#ff2600" stroke="#000" stroke-width="2.9"/>
<line x1="1213.20" y1="768.30" x2="1238.60" y2="768.30" stroke="#000" stroke-width="3"/>
<circle cx="1225.50" cy="759.00" r="9.1" fill="#0433ff" stroke="#000" stroke-width="2.9"/>
<circle cx="1226.20" cy="761.00" r="9.1" fill="#0433ff" stroke="#000" stroke-width="2.9"/>
<circle cx="1225.40" cy="784.50" r="9.1" fill="#0433ff" stroke="#000" stroke-width="2.9"/>
<line x1="1277.80" y1="851.40" x2="1302.20" y2="851.40" stroke="#000" stroke-width="3"/>
<circle cx="1291.20" cy="851.40" r="9.1" fill="#ff2600" stroke="#000" stroke-width="2.9"/>
<circle cx="1290.30" cy="847.00" r="9.1" fill="#ff2600" stroke="#000" stroke-width="2.9"/>
<circle cx="1289.50" cy="842.70" r="9.1" fill="#ff2600" stroke="#000" stroke-width="2.9"/>
<line x1="1317.00" y1="778.10" x2="1341.60" y2="778.10" stroke="#000" stroke-width="3"/>
<circle cx="1329.40" cy="794.60" r="9.1" fill="#0433ff" stroke="#000" stroke-width="2.9"/>
<circle cx="1330.40" cy="775.10" r="9.1" fill="#0433ff" stroke="#000" stroke-width="2.9"/>
<circle cx="1328.70" cy="767.30" r="9.1" fill="#0433ff" stroke="#000" stroke-width="2.9"/>
<circle cx="1219.10" cy="554.50" r="9.1" fill="#ff2600" stroke="#000" stroke-width="2.9"/>
<circle cx="1219.50" cy="598.40" r="9.1" fill="#0433ff" stroke="#000" stroke-width="2.9"/>
<text x="1243.30" y="563.50" font-size="28.7">1.3 kPa</text>
<text x="1243.30" y="607.60" font-size="28.7">4 kPa</text>
<text x="694.75" y="927.00" font-size="33.4" text-anchor="end" transform="rotate(-45 694.75 927.00)" font-style="italic">Tnf<tspan font-family="Liberation Serif">α</tspan></text>
<text x="807.50" y="932.00" font-size="33.4" text-anchor="end" transform="rotate(-45 807.50 932.00)" font-style="italic">Ccl2</text>
<text x="907.20" y="933.70" font-size="33.4" text-anchor="end" transform="rotate(-45 907.20 933.70)" font-style="italic">Cxcl1</text>
<text x="1014.80" y="933.00" font-size="33.4" text-anchor="end" transform="rotate(-45 1014.80 933.00)" font-style="italic">Cxcl10</text>
<text x="1116.70" y="931.60" font-size="33.4" text-anchor="end" transform="rotate(-45 1116.70 931.60)" font-style="italic">Tgfb1</text>
<text x="1219.20" y="932.70" font-size="33.4" text-anchor="end" transform="rotate(-45 1219.20 932.70)" font-style="italic">Col1a2</text>
<text x="1319.95" y="931.00" font-size="33.4" text-anchor="end" transform="rotate(-45 1319.95 931.00)" font-style="italic">Crp</text>
<line x1="201.00" y1="1108.90" x2="201.00" y2="1357.10" stroke="#000" stroke-width="3"/>
<line x1="184.40" y1="1110.40" x2="202.50" y2="1110.40" stroke="#000" stroke-width="3"/>
<line x1="184.40" y1="1172.00" x2="202.50" y2="1172.00" stroke="#000" stroke-width="3"/>
<line x1="184.40" y1="1233.80" x2="202.50" y2="1233.80" stroke="#000" stroke-width="3"/>
<line x1="184.40" y1="1295.30" x2="202.50" y2="1295.30" stroke="#000" stroke-width="3"/>
<line x1="184.40" y1="1357.00" x2="202.50" y2="1357.00" stroke="#000" stroke-width="3"/>
<line x1="184.40" y1="1357.10" x2="522.80" y2="1357.10" stroke="#000" stroke-width="3"/>
<line x1="249.50" y1="1357.10" x2="249.50" y2="1374.50" stroke="#000" stroke-width="3"/>
<line x1="361.00" y1="1357.10" x2="361.00" y2="1374.50" stroke="#000" stroke-width="3"/>
<line x1="472.60" y1="1357.10" x2="472.60" y2="1374.50" stroke="#000" stroke-width="3"/>
<text x="168.80" y="1122.90" font-size="33.4" text-anchor="end">20</text>
<text x="168.80" y="1184.50" font-size="33.4" text-anchor="end">15</text>
<text x="168.80" y="1246.30" font-size="33.4" text-anchor="end">10</text>
<text x="168.80" y="1307.80" font-size="33.4" text-anchor="end">5</text>
<text x="168.80" y="1369.50" font-size="33.4" text-anchor="end">0</text>
<text x="105.20" y="1234.50" font-size="33.4" text-anchor="middle" transform="rotate(-90 105.20 1234.50)">Relative mRNA levels</text>
<line x1="344.00" y1="1259.30" x2="388.00" y2="1259.30" stroke="#000" stroke-width="1.8"/>
<text x="367.90" y="1256.90" font-size="20.6" text-anchor="middle" font-weight="bold">*</text>
<line x1="457.40" y1="1146.00" x2="501.80" y2="1146.00" stroke="#000" stroke-width="1.8"/>
<text x="480.70" y="1145.40" font-size="20.6" text-anchor="middle" font-weight="bold">*</text>
<line x1="215.50" y1="1343.80" x2="242.90" y2="1343.80" stroke="#000" stroke-width="3"/>
<circle cx="229.00" cy="1349.00" r="9.1" fill="#ff2600" stroke="#000" stroke-width="2.9"/>
<circle cx="229.40" cy="1350.00" r="9.1" fill="#ff2600" stroke="#000" stroke-width="2.9"/>
<circle cx="228.40" cy="1331.10" r="9.1" fill="#ff2600" stroke="#000" stroke-width="2.9"/>
<line x1="270.90" y1="1286.50" x2="270.90" y2="1306.00" stroke="#000" stroke-width="3"/>
<line x1="263.05" y1="1286.50" x2="278.75" y2="1286.50" stroke="#000" stroke-width="3"/>
<line x1="270.90" y1="1306.00" x2="270.90" y2="1322.00" stroke="#000" stroke-width="3"/>
<line x1="263.05" y1="1322.00" x2="278.75" y2="1322.00" stroke="#000" stroke-width="3"/>
<line x1="257.25" y1="1306.00" x2="284.55" y2="1306.00" stroke="#000" stroke-width="3"/>
<circle cx="270.90" cy="1267.30" r="9.1" fill="#0433ff" stroke="#000" stroke-width="2.9"/>
<circle cx="264.00" cy="1327.00" r="9.1" fill="#0433ff" stroke="#000" stroke-width="2.9"/>
<circle cx="285.10" cy="1325.20" r="9.1" fill="#0433ff" stroke="#000" stroke-width="2.9"/>
<line x1="327.20" y1="1344.40" x2="354.60" y2="1344.40" stroke="#000" stroke-width="3"/>
<circle cx="339.50" cy="1340.50" r="9.1" fill="#ff2600" stroke="#000" stroke-width="2.9"/>
<circle cx="340.00" cy="1348.00" r="9.1" fill="#ff2600" stroke="#000" stroke-width="2.9"/>
<circle cx="340.90" cy="1349.90" r="9.1" fill="#ff2600" stroke="#000" stroke-width="2.9"/>
<line x1="382.60" y1="1298.80" x2="382.60" y2="1306.30" stroke="#000" stroke-width="3"/>
<line x1="374.80" y1="1298.80" x2="390.40" y2="1298.80" stroke="#000" stroke-width="3"/>
<line x1="382.60" y1="1306.30" x2="382.60" y2="1315.00" stroke="#000" stroke-width="3"/>
<line x1="374.80" y1="1315.00" x2="390.40" y2="1315.00" stroke="#000" stroke-width="3"/>
<line x1="368.90" y1="1306.30" x2="396.30" y2="1306.30" stroke="#000" stroke-width="3"/>
<circle cx="382.60" cy="1289.20" r="9.1" fill="#0433ff" stroke="#000" stroke-width="2.9"/>
<circle cx="396.80" cy="1310.20" r="9.1" fill="#0433ff" stroke="#000" stroke-width="2.9"/>
<circle cx="375.70" cy="1319.00" r="9.1" fill="#0433ff" stroke="#000" stroke-width="2.9"/>
<line x1="438.60" y1="1344.40" x2="465.60" y2="1344.40" stroke="#000" stroke-width="3"/>
<circle cx="451.40" cy="1340.00" r="9.1" fill="#ff2600" stroke="#000" stroke-width="2.9"/>
<circle cx="452.00" cy="1348.00" r="9.1" fill="#ff2600" stroke="#000" stroke-width="2.9"/>
<circle cx="452.50" cy="1343.00" r="9.1" fill="#ff2600" stroke="#000" stroke-width="2.9"/>
<line x1="494.00" y1="1176.00" x2="494.00" y2="1216.30" stroke="#000" stroke-width="3"/>
<line x1="486.20" y1="1176.00" x2="501.80" y2="1176.00" stroke="#000" stroke-width="3"/>
<line x1="494.00" y1="1216.30" x2="494.00" y2="1256.40" stroke="#000" stroke-width="3"/>
<line x1="486.20" y1="1256.40" x2="501.80" y2="1256.40" stroke="#000" stroke-width="3"/>
<line x1="480.30" y1="1216.30" x2="507.70" y2="1216.30" stroke="#000" stroke-width="3"/>
<circle cx="479.70" cy="1169.80" r="9.1" fill="#0433ff" stroke="#000" stroke-width="2.9"/>
<circle cx="500.80" cy="1180.70" r="9.1" fill="#0433ff" stroke="#000" stroke-width="2.9"/>
<circle cx="494.00" cy="1296.50" r="9.1" fill="#0433ff" stroke="#000" stroke-width="2.9"/>
<circle cx="553.40" cy="1109.50" r="9.1" fill="#ff2600" stroke="#000" stroke-width="2.9"/>
<circle cx="554.00" cy="1153.50" r="9.1" fill="#0433ff" stroke="#000" stroke-width="2.9"/>
<text x="578.70" y="1119.10" font-size="28.7">1.3 kPa</text>
<text x="578.70" y="1162.80" font-size="28.7">4 kPa</text>
<text x="265.50" y="1405.80" font-size="33.4" text-anchor="end" transform="rotate(-45 265.50 1405.80)" font-style="italic">Mmp2</text>
<text x="373.90" y="1405.80" font-size="33.4" text-anchor="end" transform="rotate(-45 373.90 1405.80)" font-style="italic">Mmp3</text>
<text x="487.50" y="1405.20" font-size="33.4" text-anchor="end" transform="rotate(-45 487.50 1405.20)" font-style="italic">Mmp13</text>
<line x1="882.30" y1="1103.00" x2="882.30" y2="1352.30" stroke="#000" stroke-width="3"/>
<line x1="865.00" y1="1104.50" x2="883.80" y2="1104.50" stroke="#000" stroke-width="3"/>
<line x1="865.00" y1="1187.10" x2="883.80" y2="1187.10" stroke="#000" stroke-width="3"/>
<line x1="865.00" y1="1269.60" x2="883.80" y2="1269.60" stroke="#000" stroke-width="3"/>
<line x1="865.00" y1="1352.30" x2="883.80" y2="1352.30" stroke="#000" stroke-width="3"/>
<line x1="865.00" y1="1352.30" x2="1105.50" y2="1352.30" stroke="#000" stroke-width="3"/>
<line x1="933.70" y1="1352.30" x2="933.70" y2="1369.00" stroke="#000" stroke-width="3"/>
<line x1="1051.90" y1="1352.30" x2="1051.90" y2="1369.00" stroke="#000" stroke-width="3"/>
<text x="850.10" y="1117.60" font-size="33.4" text-anchor="end">3</text>
<text x="850.10" y="1200.20" font-size="33.4" text-anchor="end">2</text>
<text x="850.10" y="1282.70" font-size="33.4" text-anchor="end">1</text>
<text x="850.10" y="1365.40" font-size="33.4" text-anchor="end">0</text>
<text x="805.80" y="1228.75" font-size="33.4" text-anchor="middle" transform="rotate(-90 805.80 1228.75)">Relative mRNA levels</text>
<line x1="911.40" y1="1259.00" x2="911.40" y2="1269.60" stroke="#000" stroke-width="3"/>
<line x1="902.75" y1="1259.00" x2="920.05" y2="1259.00" stroke="#000" stroke-width="3"/>
<line x1="911.40" y1="1269.60" x2="911.40" y2="1278.00" stroke="#000" stroke-width="3"/>
<line x1="902.75" y1="1278.00" x2="920.05" y2="1278.00" stroke="#000" stroke-width="3"/>
<line x1="896.90" y1="1269.60" x2="925.90" y2="1269.60" stroke="#000" stroke-width="3"/>
<circle cx="911.70" cy="1249.10" r="9.1" fill="#ff2600" stroke="#000" stroke-width="2.9"/>
<circle cx="904.00" cy="1281.00" r="9.1" fill="#ff2600" stroke="#000" stroke-width="2.9"/>
<circle cx="925.60" cy="1276.30" r="9.1" fill="#ff2600" stroke="#000" stroke-width="2.9"/>
<line x1="956.30" y1="1246.60" x2="956.30" y2="1266.70" stroke="#000" stroke-width="3"/>
<line x1="947.70" y1="1246.60" x2="964.90" y2="1246.60" stroke="#000" stroke-width="3"/>
<line x1="956.30" y1="1266.70" x2="956.30" y2="1286.80" stroke="#000" stroke-width="3"/>
<line x1="947.70" y1="1286.80" x2="964.90" y2="1286.80" stroke="#000" stroke-width="3"/>
<line x1="941.80" y1="1266.70" x2="970.80" y2="1266.70" stroke="#000" stroke-width="3"/>
<circle cx="956.60" cy="1227.10" r="9.1" fill="#0433ff" stroke="#000" stroke-width="2.9"/>
<circle cx="971.00" cy="1279.70" r="9.1" fill="#0433ff" stroke="#000" stroke-width="2.9"/>
<circle cx="949.00" cy="1293.90" r="9.1" fill="#0433ff" stroke="#000" stroke-width="2.9"/>
<line x1="1030.30" y1="1224.20" x2="1030.30" y2="1247.60" stroke="#000" stroke-width="3"/>
<line x1="1021.95" y1="1224.20" x2="1038.65" y2="1224.20" stroke="#000" stroke-width="3"/>
<line x1="1030.30" y1="1247.60" x2="1030.30" y2="1271.10" stroke="#000" stroke-width="3"/>
<line x1="1021.95" y1="1271.10" x2="1038.65" y2="1271.10" stroke="#000" stroke-width="3"/>
<line x1="1015.65" y1="1247.60" x2="1044.95" y2="1247.60" stroke="#000" stroke-width="3"/>
<circle cx="1030.30" cy="1203.60" r="9.1" fill="#ff2600" stroke="#000" stroke-width="2.9"/>
<circle cx="1044.60" cy="1258.10" r="9.1" fill="#ff2600" stroke="#000" stroke-width="2.9"/>
<circle cx="1023.20" cy="1282.00" r="9.1" fill="#ff2600" stroke="#000" stroke-width="2.9"/>
<line x1="1075.20" y1="1189.20" x2="1075.20" y2="1199.40" stroke="#000" stroke-width="3"/>
<line x1="1066.60" y1="1189.20" x2="1083.80" y2="1189.20" stroke="#000" stroke-width="3"/>
<line x1="1075.20" y1="1199.40" x2="1075.20" y2="1209.00" stroke="#000" stroke-width="3"/>
<line x1="1066.60" y1="1209.00" x2="1083.80" y2="1209.00" stroke="#000" stroke-width="3"/>
<line x1="1060.70" y1="1199.40" x2="1089.70" y2="1199.40" stroke="#000" stroke-width="3"/>
<circle cx="1075.20" cy="1181.00" r="9.1" fill="#0433ff" stroke="#000" stroke-width="2.9"/>
<circle cx="1089.20" cy="1203.60" r="9.1" fill="#0433ff" stroke="#000" stroke-width="2.9"/>
<circle cx="1067.60" cy="1212.20" r="9.1" fill="#0433ff" stroke="#000" stroke-width="2.9"/>
<circle cx="1149.60" cy="1111.00" r="9.1" fill="#ff2600" stroke="#000" stroke-width="2.9"/>
<circle cx="1149.80" cy="1155.10" r="9.1" fill="#0433ff" stroke="#000" stroke-width="2.9"/>
<text x="1174.60" y="1120.50" font-size="28.7">1.3 kPa</text>
<text x="1174.60" y="1164.20" font-size="28.7">4 kPa</text>
<text x="948.50" y="1402.60" font-size="33.4" text-anchor="end" transform="rotate(-45 948.50 1402.60)" font-style="italic">Ctgf</text>
<text x="1068.00" y="1399.00" font-size="33.4" text-anchor="end" transform="rotate(-45 1068.00 1399.00)" font-style="italic">Cyr61</text>
</svg></body></html>
